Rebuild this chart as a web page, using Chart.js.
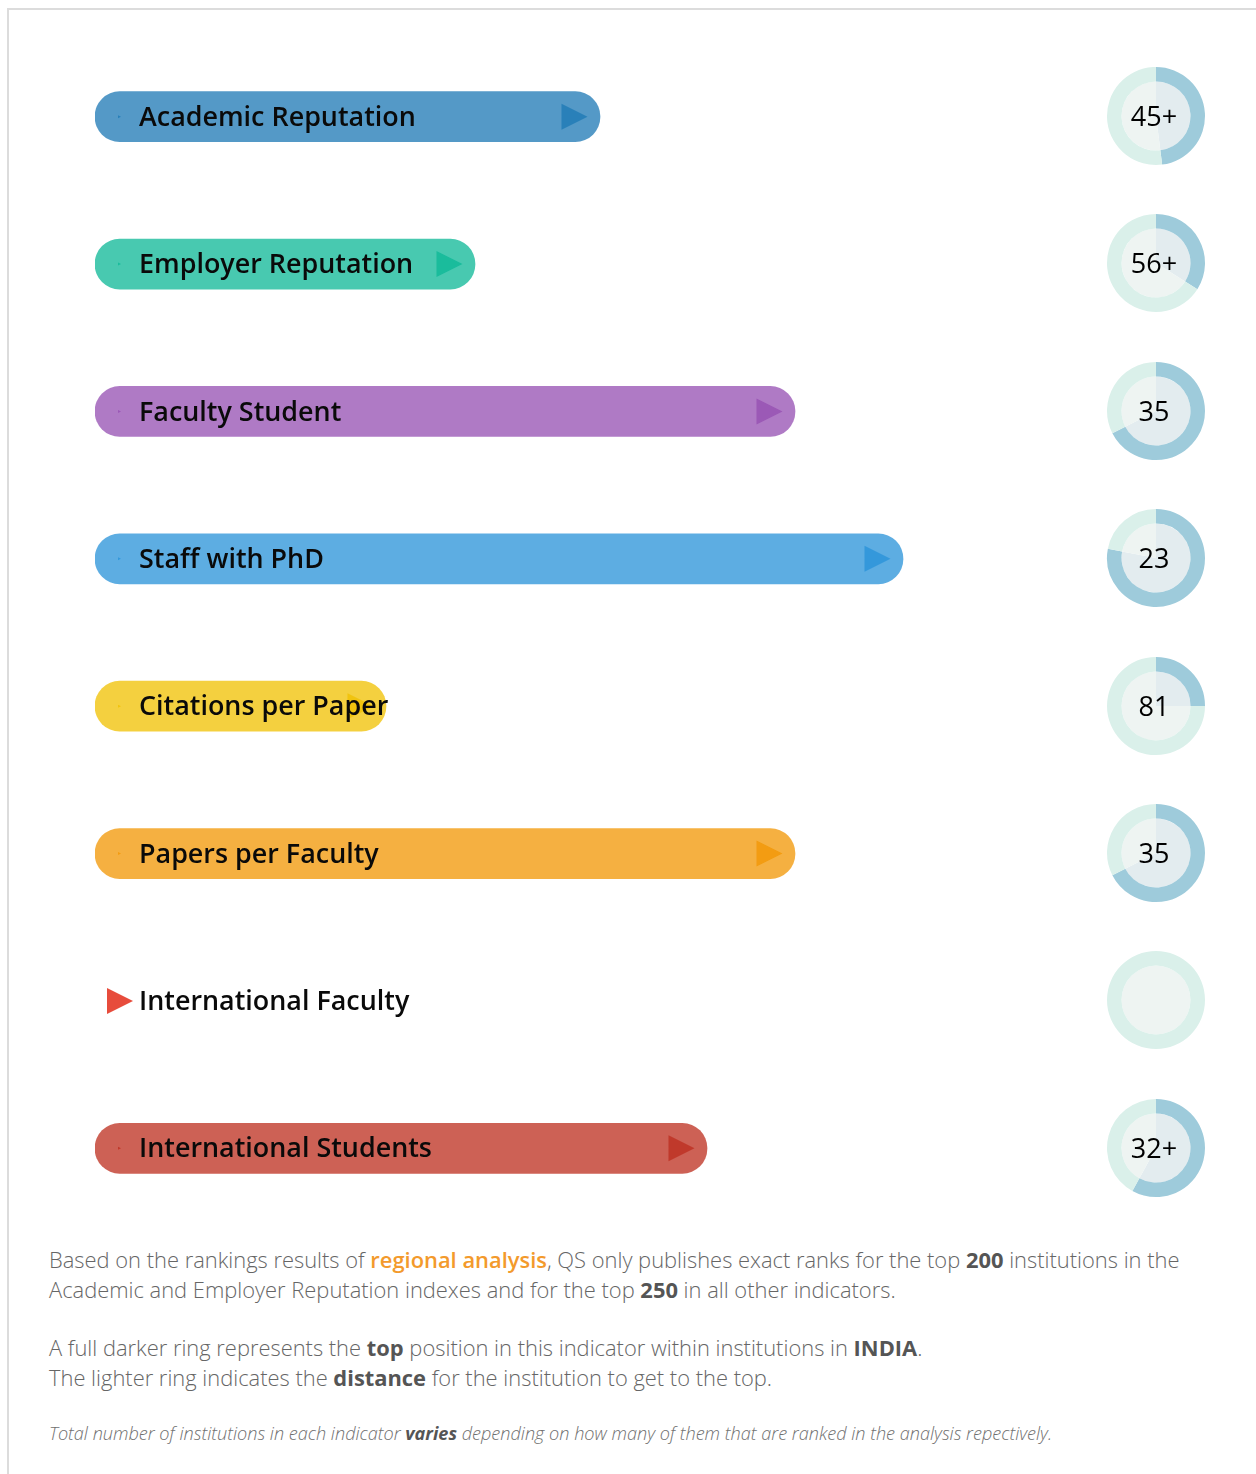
<!DOCTYPE html>
<html>
<head>
<meta charset="utf-8">
<script src="https://cdn.jsdelivr.net/npm/chart.js@4.4.1/dist/chart.umd.min.js"></script>
<style>
  html, body { margin: 0; padding: 0; background: #fff; }
  body { width: 1256px; height: 1474px; position: relative; overflow: hidden; font-family: "Open Sans", sans-serif; }
  .frame { position: absolute; left: 7px; top: 8px; right: -5px; bottom: -5px; border-top: 2px solid #dcdcdc; border-left: 2px solid #dcdcdc; }
  #barChart { position: absolute; left: 0; top: 0; }
  .ring { position: absolute; }
  .notes { position: absolute; left: 49px; top: 1245px; width: 1195px; color: #666; font-weight: 300; font-size: 21.9px; line-height: 30px; }
  .notes p { margin: 0 0 28px 0; }
  .notes b { font-weight: 700; color: #555; }
  .notes .hl { color: #f39a2c; font-weight: 600; }
  .notes .small { font-style: italic; font-size: 18.1px; color: #707070; margin-top: -3px; }
</style>
</head>
<body>
<div class="frame"></div>
<canvas id="barChart" width="1100" height="1230"></canvas>
<div id="rings"></div>
<div class="notes">
  <p>Based on the rankings results of <span class="hl">regional analysis</span>, QS only publishes exact ranks for the top <b>200</b> institutions in the Academic and Employer Reputation indexes and for the top <b>250</b> in all other indicators.</p>
  <p>A full darker ring represents the <b>top</b> position in this indicator within institutions in <b>INDIA</b>.<br>The lighter ring indicates the <b>distance</b> for the institution to get to the top.</p>
  <p class="small">Total number of institutions in each indicator <b>varies</b> depending on how many of them that are ranked in the analysis repectively.</p>
</div>
<script>
// ===== DATA =====
const indicators = ["Academic Reputation", "Employer Reputation", "Faculty Student", "Staff with PhD",
  "Citations per Paper", "Papers per Faculty", "International Faculty", "International Students"];
const scores = [50.5, 38, 70, 80.8, 29.1, 70, 0, 61.2];
const ranks = ["45+", "56+", "35", "23", "81", "35", "", "32+"];
const ringShare = [0.48, 0.34, 0.675, 0.78, 0.25, 0.675, 0, 0.58];
const baseColors = ["#2980b9", "#1abc9c", "#9b59b6", "#3498db", "#f1c40f", "#f39c12", "#e74c3c", "#c0392b"];

const fade = (hex, a) => {
  const n = parseInt(hex.slice(1), 16);
  return `rgba(${n >> 16},${(n >> 8) & 255},${n & 255},${a})`;
};

// ===== BAR CHART =====
const barDecor = {
  id: "barDecor",
  afterDatasetsDraw(chart) {
    const c = chart.ctx;
    const meta = chart.getDatasetMeta(0);
    meta.data.forEach((bar, i) => {
      const y = bar.y;
      // end arrow
      const tip = Math.max(bar.x - 12.5, 133);
      c.fillStyle = baseColors[i];
      c.beginPath();
      c.moveTo(tip, y);
      c.lineTo(tip - 26, y - 13);
      c.lineTo(tip - 26, y + 13);
      c.closePath();
      c.fill();
      // tiny start marker
      if (scores[i] > 0) {
        c.beginPath();
        c.moveTo(121, y);
        c.lineTo(118, y - 1.5);
        c.lineTo(118, y + 1.5);
        c.closePath();
        c.fill();
      }
      // label
      c.fillStyle = "#0a0a0a";
      c.font = "600 26.9px 'Open Sans'";
      c.textBaseline = "middle";
      c.textAlign = "left";
      c.fillText(indicators[i], 139, y + 1.5);
    });
  }
};

new Chart(document.getElementById("barChart"), {
  type: "bar",
  data: {
    labels: indicators,
    datasets: [{
      data: scores,
      backgroundColor: baseColors.map((c, i) => scores[i] > 0 ? fade(c, 0.8) : "rgba(0,0,0,0)"),
      borderRadius: 25,
      borderSkipped: false,
      barThickness: 50
    }]
  },
  options: {
    indexAxis: "y",
    responsive: false,
    animation: false,
    layout: { padding: { left: 95, right: 5, top: 43, bottom: 8 } },
    scales: {
      x: { display: false, min: 0, max: 100 },
      y: { display: false }
    },
    plugins: { legend: { display: false }, tooltip: { enabled: false } }
  },
  plugins: [barDecor]
});

// ===== RINGS =====
const ringText = {
  id: "ringText",
  afterDraw(chart) {
    const c = chart.ctx;
    const t = chart.options.plugins.ringText.text;
    c.fillStyle = "#000";
    c.font = "500 27px 'Open Sans'";
    c.textAlign = "center";
    c.textBaseline = "middle";
    c.fillText(t, chart.width / 2 - 2, chart.height / 2 + 2);
  }
};

const ringBox = document.getElementById("rings");
ranks.forEach((rank, i) => {
  const cv = document.createElement("canvas");
  cv.width = 100;
  cv.height = 100;
  cv.className = "ring";
  cv.style.left = "1106px";
  cv.style.top = (66 + i * 147.4) + "px";
  ringBox.appendChild(cv);
  const share = ringShare[i];
  new Chart(cv, {
    type: "doughnut",
    data: {
      datasets: [
        { data: [share, 1 - share], backgroundColor: ["#9ecbdb", "#daf0ea"], borderWidth: 0, weight: 14.5 },
        { data: [share, 1 - share], backgroundColor: ["#e3ecef", "#eef4f2"], borderWidth: 0, weight: 34.5 }
      ]
    },
    options: {
      responsive: false,
      animation: false,
      cutout: 0,
      layout: { padding: 1 },
      plugins: { legend: { display: false }, tooltip: { enabled: false }, ringText: { text: rank } }
    },
    plugins: [ringText]
  });
});
</script>
</body>
</html>
